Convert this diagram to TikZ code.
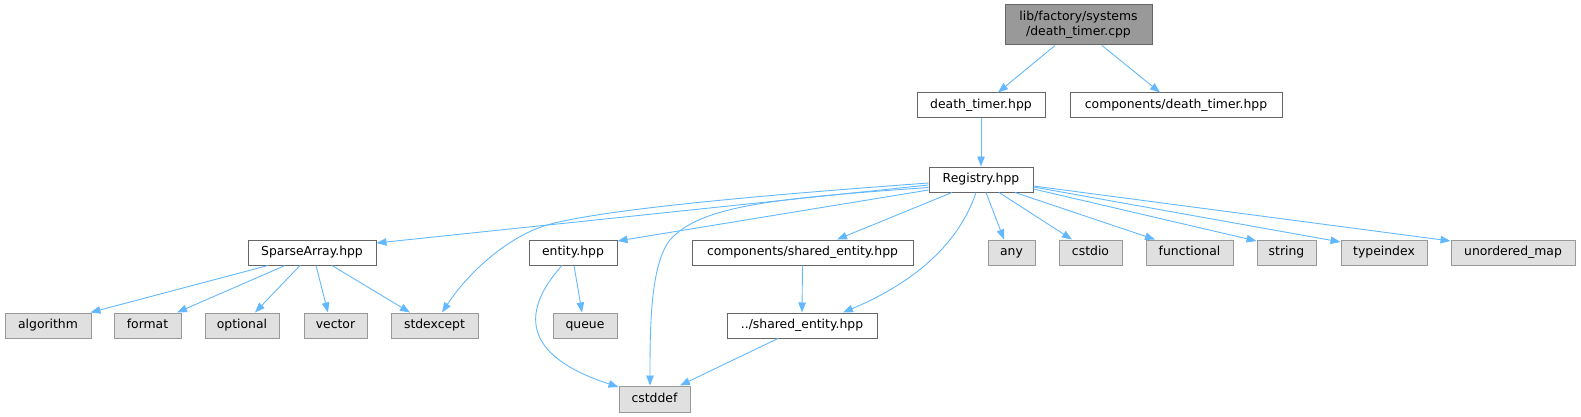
\documentclass[tikz,border=0pt]{standalone}
\usepackage{fontspec}
\setmainfont{DejaVu Sans}
\usetikzlibrary{arrows.meta,calc}
\definecolor{edgec}{HTML}{63B8FF}
\definecolor{bordw}{HTML}{666666}
\definecolor{bordg}{HTML}{999999}
\definecolor{fillg}{HTML}{E0E0E0}
\definecolor{fillr}{HTML}{999999}
\tikzset{
  base/.style={draw, line width=1pt, inner sep=0pt, minimum height=25pt,
    font=\fontsize{12.4}{15}\selectfont, text height=9.2pt, text depth=2.6pt, anchor=center},
  wnode/.style={base, draw=bordw, fill=white},
  gnode/.style={base, draw=bordg, fill=fillg},
  rnode/.style={base, draw=bordw, fill=fillr, minimum height=40pt, align=center, text height=, text depth=},
  edge/.style={draw=edgec, line width=0.9pt, -{Triangle[length=10pt,width=7.5pt]}}
}
\begin{document}
\begin{tikzpicture}[x=1pt,y=-1pt]
\useasboundingbox (0,0) rectangle (1581,417);
% nodes
\node[rnode, minimum width=147pt] (root) at (1078.5,25) {lib/factory/systems\\/death\_timer.cpp};
\node[wnode, minimum width=128pt] (dth) at (981,105.5) {death\_timer.hpp};
\node[wnode, minimum width=212pt] (cdth) at (1176,105.5) {components/death\_timer.hpp};
\node[wnode, minimum width=104pt] (reg) at (981,179.5) {Registry.hpp};
\node[wnode, minimum width=128pt] (sparse) at (312,252.5) {SparseArray.hpp};
\node[wnode, minimum width=88pt] (entity) at (573,252.5) {entity.hpp};
\node[wnode, minimum width=221pt] (cshared) at (802.5,252.5) {components/shared\_entity.hpp};
\node[gnode, minimum width=47pt] (any) at (1011.5,252.5) {any};
\node[gnode, minimum width=63pt] (cstdio) at (1090.5,252.5) {cstdio};
\node[gnode, minimum width=87pt] (functional) at (1189.5,252.5) {functional};
\node[gnode, minimum width=59pt] (string) at (1286.5,252.5) {string};
\node[gnode, minimum width=86pt] (typeindex) at (1384,252.5) {typeindex};
\node[gnode, minimum width=124pt] (umap) at (1513,252.5) {unordered\_map};
\node[gnode, minimum width=86pt] (algorithm) at (48,325.5) {algorithm};
\node[gnode, minimum width=67pt] (format) at (147.5,325.5) {format};
\node[gnode, minimum width=74pt] (optional) at (242,325.5) {optional};
\node[gnode, minimum width=63pt] (vector) at (335.5,325.5) {vector};
\node[gnode, minimum width=87pt] (stdexcept) at (434.5,325.5) {stdexcept};
\node[gnode, minimum width=64pt] (queue) at (585,325.5) {queue};
\node[wnode, minimum width=150pt] (shared) at (802,325.5) {../shared\_entity.hpp};
\node[gnode, minimum width=71pt, minimum height=26pt] (cstddef) at (654.5,399) {cstddef};
% edges
\draw[edge] ($(root.south)+(-23.5,0)$) -- ($(dth.north)+(17,0)$);
\draw[edge] ($(root.south)+(23.5,0)$) -- ($(cdth.north)+(-16,0)$);
\draw[edge] (dth.south) -- (reg.north);
\draw[edge] ($(reg.west)+(0,5.5)$) -- ($(sparse.east)+(0,-9.5)$);
\draw[edge] ($(reg.west)+(0,3.5)$) .. controls (750,196) and (600,210) .. (547,225)
   .. controls (510,236) and (470,270) .. ($(stdexcept.north)+(7.5,0)$);
\draw[edge] ($(reg.west)+(0,10.5)$) -- ($(entity.east)+(0,-11.5)$);
\draw[edge] ($(reg.west)+(0,8)$) .. controls (780,198) and (700,205) .. (670,240)
   .. controls (650,265) and (650,330) .. ($(cstddef.north)+(-4.5,0)$);
\draw[edge] ($(reg.south)+(-29,0)$) -- ($(cshared.north)+(34.5,0)$);
\draw[edge] ($(reg.south)+(-5,0)$) .. controls (960,240) and (920,280) .. ($(shared.north)+(41,0)$);
\draw[edge] ($(reg.south)+(5,0)$) -- ($(any.north)+(-7.5,0)$);
\draw[edge] ($(reg.south)+(18,0)$) -- ($(cstdio.north)+(-18.5,0)$);
\draw[edge] ($(reg.south)+(34,0)$) -- ($(functional.north)+(-34.5,0)$);
\draw[edge] ($(reg.east)+(0,9.5)$) -- ($(string.west)+(0,-11.5)$);
\draw[edge] ($(reg.east)+(0,7.5)$) -- ($(typeindex.west)+(0,-10.5)$);
\draw[edge] ($(reg.east)+(0,6.5)$) -- ($(umap.west)+(0,-11.5)$);
\draw[edge] ($(sparse.south)+(-44,0)$) -- ($(algorithm.north east)+(-1,0)$);
\draw[edge] ($(sparse.south)+(-27,0)$) -- ($(format.north)+(29.5,0)$);
\draw[edge] ($(sparse.south)+(-12,0)$) -- ($(optional.north)+(13,0)$);
\draw[edge] ($(sparse.south)+(4,0)$) -- ($(vector.north)+(-7.5,0)$);
\draw[edge] ($(sparse.south)+(20,0)$) -- ($(stdexcept.north)+(-24.5,0)$);
\draw[edge] ($(entity.south)+(1,0)$) -- ($(queue.north)+(-3,0)$);
\draw[edge] ($(entity.south)+(-11,0)$) .. controls (522,310) and (520,355) .. ($(cstddef.west)+(0,-12)$);
\draw[edge] (cshared.south) -- (shared.north);
\draw[edge] ($(shared.south)+(-24,0)$) -- ($(cstddef.north)+(25.5,0)$);
\end{tikzpicture}
\end{document}
